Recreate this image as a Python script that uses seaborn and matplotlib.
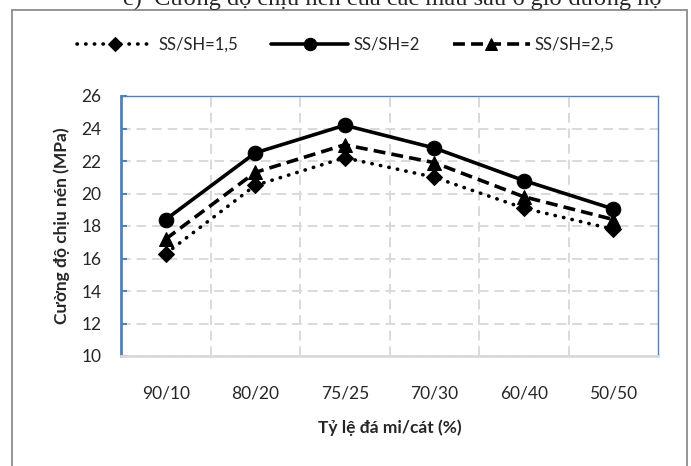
import matplotlib
matplotlib.use("Agg")
import matplotlib.pyplot as plt
import seaborn as sns
import pandas as pd
from matplotlib.patches import Rectangle
from matplotlib.ticker import FixedLocator

categories = ["90/10", "80/20", "75/25", "70/30", "60/40", "50/50"]
ss15 = [16.3, 20.5, 22.2, 21.0, 19.1, 17.8]
ss20 = [18.4, 22.5, 24.2, 22.8, 20.8, 19.05]
ss25 = [17.2, 21.3, 23.0, 21.9, 19.8, 18.4]
series_names = ["SS/SH=1,5", "SS/SH=2", "SS/SH=2,5"]
yticks = [10, 12, 14, 16, 18, 20, 22, 24, 26]

sns.set_theme(style="white")
plt.rcParams['font.family'] = ['Lato', 'DejaVu Sans']

W, H = 691, 466
fig = plt.figure(figsize=(W / 100, H / 100), dpi=100)
ax = fig.add_axes([121 / W, 1 - 356 / H, 537 / W, 260 / H])

styles = [
    dict(linestyle=(0, (0.1, 2.3)), marker="D", markersize=8.5, dash_capstyle="round"),
    dict(linestyle="-", marker="o", markersize=10.5),
    dict(linestyle=(0, (3.3, 1.7)), marker="^", markersize=10),
]
for name, vals, st in zip(series_names, [ss15, ss20, ss25], styles):
    df = pd.DataFrame({"cat": categories, "val": vals})
    sns.lineplot(data=df, x="cat", y="val", ax=ax, color="black", linewidth=2.6,
                 markeredgecolor="black", markerfacecolor="black", label=name,
                 sort=False, **st)

ax.set_xlim(-0.5, 5.5)
ax.set_ylim(10, 26)
ax.set_yticks(yticks)
ax.set_yticklabels([str(t) for t in yticks], fontsize=12.5)
ax.set_xticks(range(len(categories)))
ax.set_xticklabels(categories, fontsize=12.5)
ax.xaxis.set_minor_locator(FixedLocator([0.5, 1.5, 2.5, 3.5, 4.5]))

ax.grid(False)
ax.grid(which="major", axis="y", color="#D9D9D9", linestyle=(0, (5, 3)), linewidth=1.4)
ax.grid(which="minor", axis="x", color="#D9D9D9", linestyle=(0, (5, 3)), linewidth=1.4)
ax.set_axisbelow(True)

blue = "#4F81BD"
for s in ["left", "top", "right"]:
    ax.spines[s].set_color(blue)
ax.spines["left"].set_linewidth(2.0)
ax.spines["top"].set_linewidth(1.0)
ax.spines["right"].set_linewidth(1.0)
ax.spines["bottom"].set_color("#D9D9D9")
ax.spines["bottom"].set_linewidth(2.0)

ax.tick_params(axis="y", which="major", direction="in", length=4, width=1.5, color=blue, pad=14, left=True)
ax.tick_params(axis="x", which="both", length=0, pad=21)

ax.set_xlabel("Tỷ lệ đá mi/cát (%)", fontsize=12.5, fontweight="bold", labelpad=13)
ax.set_ylabel("Cường độ chịu nén (MPa)", fontsize=12.5, fontweight="bold", labelpad=8)

leg = ax.legend(loc="center", bbox_to_anchor=(0.5, 1 - 45 / H), bbox_transform=fig.transFigure,
                ncol=3, frameon=False, fontsize=12, handlelength=4.6, columnspacing=2.0,
                handletextpad=0.3, markerscale=0.85)

# outer chart frame
fig.patches.append(Rectangle((12 / W, -0.05), 675 / W, 1 - 10 / H + 0.05,
                             transform=fig.transFigure, fill=False,
                             edgecolor="#8C8C8C", linewidth=1.3))

fig.text(123 / W, 1 - 5 / H, "c)  Cường độ chịu nén của các mẫu sau 6 giờ dưỡng hộ",
         family="Liberation Serif", fontsize=17.6, va="baseline", ha="left")

fig.savefig("out.png", dpi=100)
